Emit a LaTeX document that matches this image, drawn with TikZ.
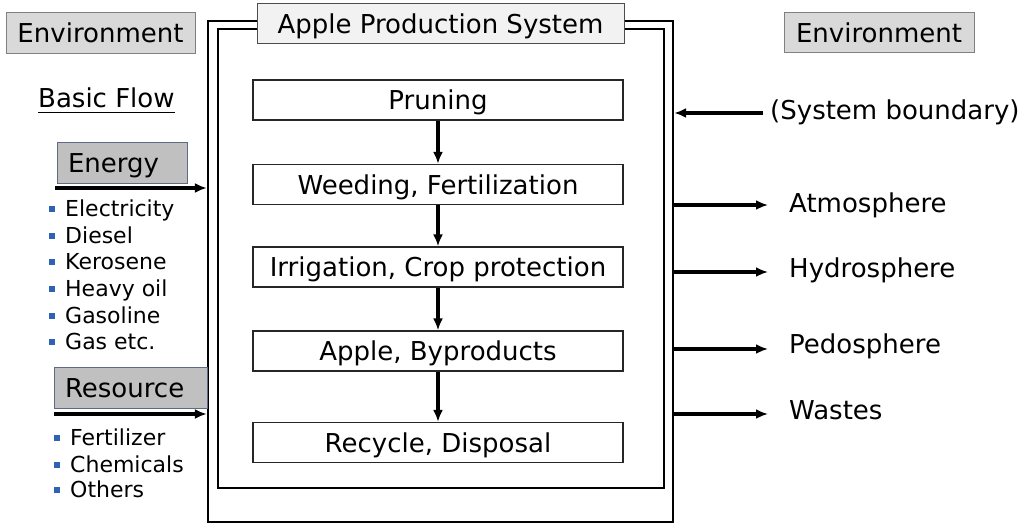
\documentclass[tikz,border=0pt]{standalone}
\usepackage{fontspec}
\setmainfont{DejaVu Sans}
\usetikzlibrary{arrows.meta}
\definecolor{envfill}{HTML}{D9D9D9}
\definecolor{envdraw}{HTML}{808080}
\definecolor{catfill}{HTML}{C0C0C0}
\definecolor{catdraw}{HTML}{5F6B85}
\definecolor{titlefill}{HTML}{F2F2F2}
\definecolor{bulblue}{HTML}{2F62B5}
\newcommand{\bul}{\textcolor{bulblue}{\raisebox{4.5pt}{\rule{6pt}{6pt}}}}
\begin{document}
\begin{tikzpicture}[x=1pt,y=-1pt,
  big/.style={font=\fontsize{26}{31}\selectfont},
  small/.style={font=\fontsize{22}{26}\selectfont},
  boxtext/.style={text height=19pt, text depth=0pt},
  envbox/.style={big, boxtext, draw=envdraw, fill=envfill, line width=1pt, minimum width=189pt, minimum height=41pt, inner sep=0pt},
  catbox/.style={big, boxtext, draw=catdraw, fill=catfill, line width=1pt, minimum height=41pt, inner xsep=11pt, inner ysep=0pt, align=left},
  procbox/.style={big, boxtext, draw=black!85, line width=1.3pt, minimum width=370pt, minimum height=40pt, inner sep=0pt, fill=white},
  bound/.style={draw, line width=2.2pt, inner sep=0pt},
  flow/.style={line width=3.2pt, -{Latex[length=12pt,width=10pt]}},
  item/.style={small, anchor=base west, inner sep=0pt},
  lbl/.style={big, anchor=base west, inner sep=0pt}
]
\useasboundingbox (0,0) rectangle (1035,524);
% system boundary (double line)
\node[bound, minimum width=465pt, minimum height=501pt] (outer) at (440.5,271.5) {};
\node[bound, minimum width=446pt, minimum height=459pt] (inner) at (441,258.5) {};
\node[big, boxtext, draw=black!70, fill=titlefill, line width=1pt, minimum width=367pt, minimum height=40pt, inner sep=0pt] (title) at (440.5,24) {Apple Production System};
% process steps
\node[procbox] (p1) at (438,100) {Pruning};
\node[procbox] (p2) at (438,184.5) {Weeding, Fertilization};
\node[procbox] (p3) at (438,267) {Irrigation, Crop protection};
\node[procbox] (p4) at (438,351) {Apple, Byproducts};
\node[procbox] (p5) at (438,442.5) {Recycle, Disposal};
\draw[flow] (p1) -- (p2);
\draw[flow] (p2) -- (p3);
\draw[flow] (p3) -- (p4);
\draw[flow] (p4) -- (p5);
% left side
\node[envbox] (envL) at (100.5,33.5) {Environment};
\node[lbl] (bf) at (38,108) {Basic Flow};
\draw[line width=1pt] ([yshift=-5pt]bf.base west) -- ([yshift=-5pt]bf.base east);
\node[catbox, text width=108pt] (energy) at (122,162.5) {Energy};
\coordinate (eIn) at (55,188);
\draw[flow] (eIn) -- (eIn -| outer.west);
\node[item] (e1) at (49,216) {\bul\hspace{10pt}Electricity};
\node[item] (e2) at (49,243) {\bul\hspace{10pt}Diesel};
\node[item] (e3) at (49,269) {\bul\hspace{10pt}Kerosene};
\node[item] (e4) at (49,296) {\bul\hspace{10pt}Heavy oil};
\node[item] (e5) at (49,323) {\bul\hspace{10pt}Gasoline};
\node[item] (e6) at (49,349) {\bul\hspace{10pt}Gas etc.};
\node[catbox, text width=131pt] (resource) at (130.5,388) {Resource};
\coordinate (rIn) at (54,414);
\draw[flow] (rIn) -- (rIn -| outer.west);
\node[item] (r1) at (54,445) {\bul\hspace{10pt}Fertilizer};
\node[item] (r2) at (54,472) {\bul\hspace{10pt}Chemicals};
\node[item] (r3) at (54,497) {\bul\hspace{10pt}Others};
% right side
\node[envbox, minimum width=190pt, minimum height=40pt] (envR) at (879,33) {Environment};
\node[lbl] (sb) at (770,120) {(System boundary)};
\coordinate (sbA) at (763,113);
\draw[flow] (sbA) -- (sbA -| outer.east);
\node[lbl] (atm) at (789,212) {Atmosphere};
\node[lbl] (hyd) at (789,277) {Hydrosphere};
\node[lbl] (ped) at (789,353) {Pedosphere};
\node[lbl] (was) at (789,419) {Wastes};
\coordinate (o1) at (768,205);
\coordinate (o2) at (768,272);
\coordinate (o3) at (768,349);
\coordinate (o4) at (768,414);
\draw[flow] (o1 -| outer.east) -- (o1);
\draw[flow] (o2 -| outer.east) -- (o2);
\draw[flow] (o3 -| outer.east) -- (o3);
\draw[flow] (o4 -| outer.east) -- (o4);
\end{tikzpicture}
\end{document}
